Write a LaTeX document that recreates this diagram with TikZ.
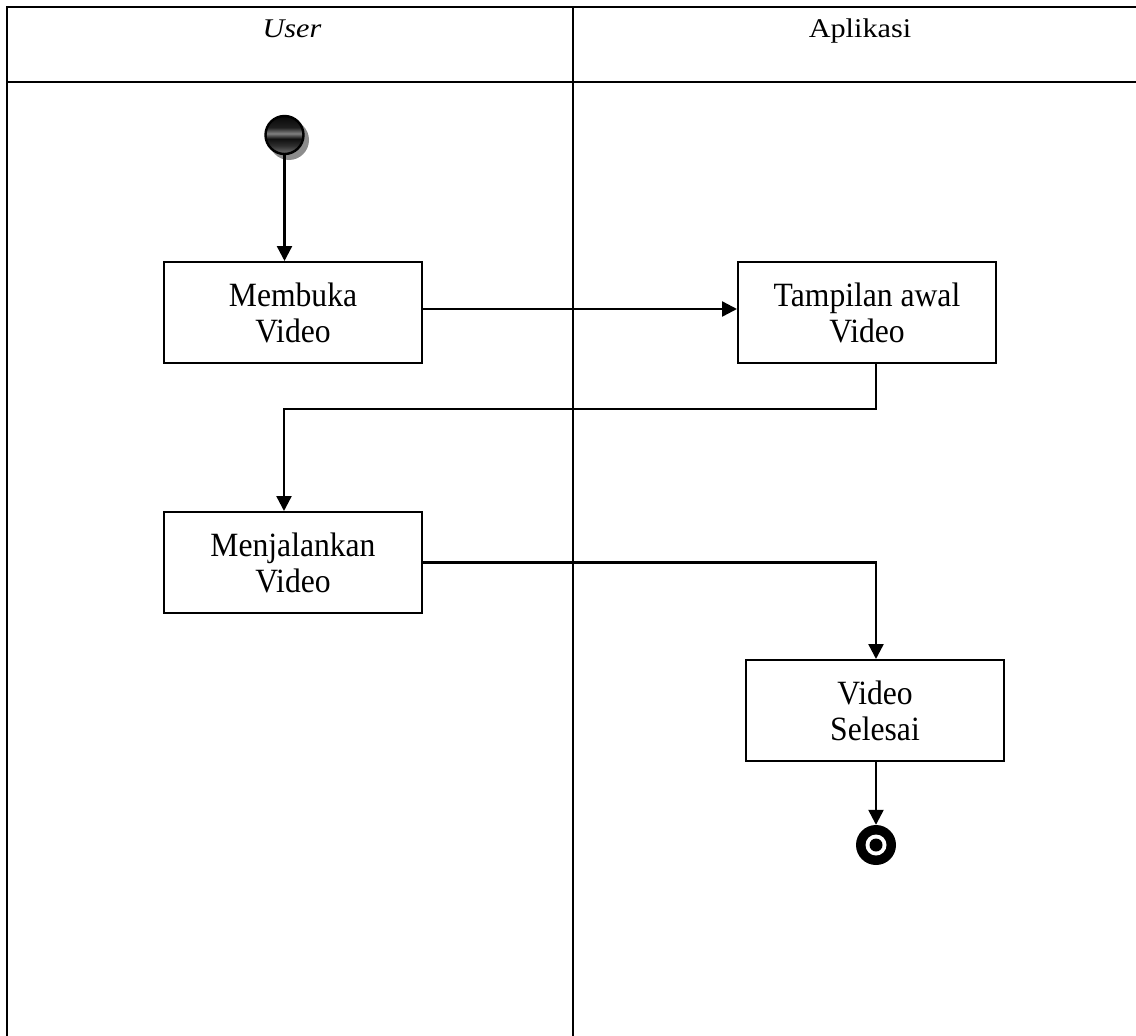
\documentclass[tikz,border=0pt]{standalone}
\usepackage{fontspec}
\setmainfont{Liberation Serif}
\newfontfamily\boxfont{Liberation Serif}[FakeStretch=0.93]
\newfontfamily\headfont{Liberation Serif}[FakeStretch=1.12]
\usetikzlibrary{arrows.meta,calc}

% start node fill: dark ball with a lighter band just above the middle
\pgfdeclareverticalshading{startball}{100bp}{%
  color(0bp)=(black!55); color(25bp)=(black!55); color(36bp)=(black!82);
  color(45bp)=(black!94); color(52bp)=(black!50); color(60bp)=(black!88);
  color(75bp)=(black!97); color(100bp)=(black!97)}

\tikzset{
  lane/.style={line width=1.4pt},
  actbox/.style={draw, line width=2.4pt, minimum width=257.6pt, minimum height=100.6pt,
    align=center, inner sep=0pt, font=\boxfont\fontsize{34}{36}\selectfont},
  flow/.style={line width=2.4pt, -{Triangle[length=15pt,width=15pt]}},
  headtext/.style={anchor=base, inner sep=0pt, font=\headfont\fontsize{27}{30}\selectfont}
}

\begin{document}
\begin{tikzpicture}[x=1pt,y=-1pt]
  \useasboundingbox (0,0) rectangle (1136,1036);

  % swimlane table
  \draw[lane] (1136,7) -- (7,7) -- (7,1036);
  \draw[lane] (7,82) -- (1136,82);
  \draw[lane] (573,7) -- (573,1036);
  \node[headtext] (hUser) at (292,37) {\itshape User};
  \node[headtext] (hApp) at (860,37) {Aplikasi};

  % initial state
  \fill[black!45] (289,140) circle (20);
  \shade[shading=startball, draw=black, line width=2.4pt] (284.5,135) circle (19);
  \node[circle, minimum size=40pt, inner sep=0pt] (start) at (284.5,135) {};

  % activities
  \node[actbox] (buka) at (293,312.5) {Membuka\\ Video};
  \node[actbox] (awal) at (867,312.5) {Tampilan awal\\ Video};
  \node[actbox] (jalan) at (293,562.5) {Menjalankan\\ Video};
  \node[actbox] (selesai) at (875,710.5) {Video\\ Selesai};

  % final state
  \fill[black] (876,845) circle (20);
  \fill[white] (876,845) circle (10.5);
  \fill[black] (876,845) circle (6.5);
  \node[circle, minimum size=40pt, inner sep=0pt] (final) at (876,845) {};

  % control flow
  \draw[flow] (start.south) -- (start.south |- buka.north);
  \draw[flow] ([yshift=3.5pt]buka.east) -- ([yshift=3.5pt]awal.west);
  \draw[flow] ([xshift=9pt]awal.south) -- ++(0,45) -| ([xshift=-9pt]jalan.north);
  \draw[flow] (jalan.east) -| (final.north |- selesai.north);
  \draw[flow] (final.north |- selesai.south) -- (final.north);
\end{tikzpicture}
\end{document}
